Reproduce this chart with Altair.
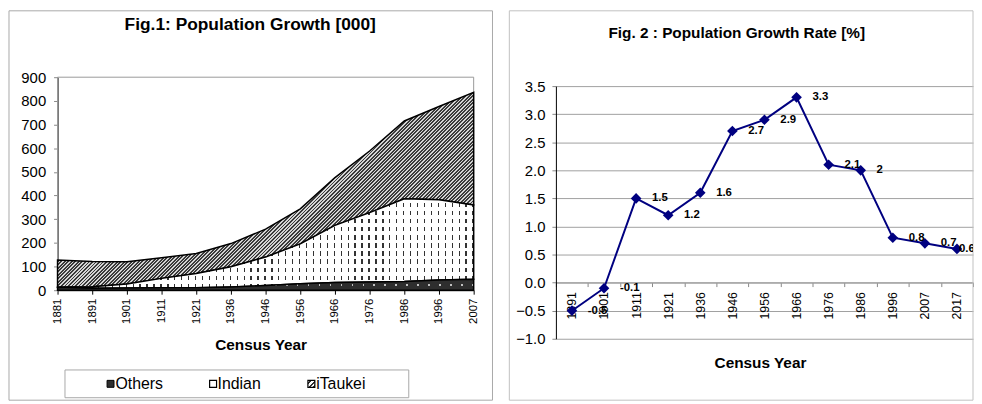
import altair as alt
import pandas as pd
import math

FONT = "Liberation Sans"

# ---------------- data ----------------
years1 = ["1881", "1891", "1901", "1911", "1921", "1936", "1946",
          "1956", "1966", "1976", "1986", "1996", "2007"]
others = [12, 8, 9, 10, 10, 14, 20, 27, 33, 35, 37, 43, 46]
indian = [1, 7, 17, 40, 61, 85, 120, 169, 241, 293, 349, 339, 314]
itaukei = [115, 106, 94, 87, 84, 98, 118, 148, 202, 260, 329, 394, 476]

years2 = ["1891", "1901", "1911", "1921", "1936", "1946", "1956",
          "1966", "1976", "1986", "1996", "2007", "2017"]
rates = [-0.5, -0.1, 1.5, 1.2, 1.6, 2.7, 2.9, 3.3, 2.1, 2.0, 0.8, 0.7, 0.6]
rate_labels = ["-0.5", "-0.1", "1.5", "1.2", "1.6", "2.7", "2.9",
               "3.3", "2.1", "2", "0.8", "0.7", "0.6"]

legend_names = ["Others", "Indian", "iTaukei"]

# ---------------- helpers ----------------
def stripe_stops(c1, c2, n, frac):
    stops = []
    for i in range(n):
        a = round(i / n, 6)
        b = round((i + frac) / n, 6)
        c = round((i + 1) / n, 6)
        stops += [alt.GradientStop(color=c1, offset=a),
                  alt.GradientStop(color=c1, offset=b),
                  alt.GradientStop(color=c2, offset=b),
                  alt.GradientStop(color=c2, offset=c)]
    return stops


# ---------------- Fig 1 ----------------
W1, H1, YMAX1 = 420, 215, 900
o_hi = others
i_hi = [a + b for a, b in zip(others, indian)]
t_hi = [a + b for a, b in zip(i_hi, itaukei)]
df1 = pd.DataFrame({"year": years1, "o_lo": [0] * len(years1), "o_hi": o_hi,
                    "i_lo": o_hi, "i_hi": i_hi, "t_lo": i_hi, "t_hi": t_hi})

x1 = alt.X("year:O", sort=years1, scale=alt.Scale(type="point", padding=0),
           axis=alt.Axis(title=None, labelAngle=-90, labelFont=FONT, labelFontSize=11.5,
                         labelColor="black", tickColor="black", domainColor="black",
                         tickSize=4, labelPadding=4))
axis_y1 = alt.Axis(title=None, values=list(range(0, 1000, 100)), grid=False,
                   labelFont=FONT, labelFontSize=15, labelColor="black",
                   tickColor="#888888", tickSize=4, labelPadding=8,
                   domainColor="black")
sc_y1 = alt.Scale(domain=[0, YMAX1], nice=False)

def y1(field):
    return alt.Y(field, scale=sc_y1, axis=axis_y1)

# iTaukei hatch: 45 degree stripes over its bounding box
Wt = W1
Ht = H1 * (max(t_hi) - min(i_hi)) / YMAX1
kx = Wt * (Wt + Ht) / (Wt ** 2 + Ht ** 2)
ky = Ht * (Wt + Ht) / (Wt ** 2 + Ht ** 2)
n_hatch = int(round((Wt + Ht) / math.sqrt(2) / 2.5))
hatch = alt.LinearGradient(gradient="linear", x1=0, y1=0, x2=kx, y2=ky,
                           stops=stripe_stops("#3a3a3a", "#d4d4d4", n_hatch, 0.55))

# Indian: vertical dashes = vertical stripes masked by horizontal white bands
Hi = H1 * (max(i_hi) - min(o_hi)) / YMAX1
vlines = alt.LinearGradient(gradient="linear", x1=0, y1=0, x2=1, y2=0,
                            stops=stripe_stops("#ffffff", "#333333", int(round(W1 / 7)), 1 - 1.3 / 7))
hmask = alt.LinearGradient(gradient="linear", x1=0, y1=0, x2=0, y2=1,
                           stops=stripe_stops("rgba(255,255,255,1)", "rgba(255,255,255,0)",
                                              max(1, int(round(Hi / 8))), 0.45))

# Others: dark with light dots
odots = alt.LinearGradient(gradient="linear", x1=0, y1=0, x2=1, y2=0,
                           stops=stripe_stops("#2e2e2e", "#c0c0c0", int(round(W1 / 11)), 0.85))
omask = alt.LinearGradient(gradient="linear", x1=0, y1=0, x2=0, y2=1,
                           stops=[alt.GradientStop(color="rgba(46,46,46,1)", offset=0),
                                  alt.GradientStop(color="rgba(46,46,46,1)", offset=0.42),
                                  alt.GradientStop(color="rgba(46,46,46,0)", offset=0.42),
                                  alt.GradientStop(color="rgba(46,46,46,0)", offset=0.6),
                                  alt.GradientStop(color="rgba(46,46,46,1)", offset=0.6),
                                  alt.GradientStop(color="rgba(46,46,46,1)", offset=1)])

one = pd.DataFrame({"a": [0]})

border1 = alt.Chart(one).mark_rect(fillOpacity=0, stroke="#a8a8a8", strokeWidth=1).encode(
    x=alt.value(-49), x2=alt.value(439), y=alt.value(-67), y2=alt.value(326))
plotbox1 = alt.Chart(one).mark_rect(fillOpacity=0, stroke="#999999", strokeWidth=1).encode(
    x=alt.value(0), x2=alt.value(W1), y=alt.value(0), y2=alt.value(H1))

base1 = alt.Chart(df1).encode(x=x1)
a_t = base1.mark_area(fill=hatch, stroke="black", strokeWidth=1.5, opacity=1).encode(
    y=y1("t_lo:Q"), y2="t_hi:Q")
a_i1 = base1.mark_area(fill=vlines, opacity=1).encode(y=y1("i_lo:Q"), y2="i_hi:Q")
a_i2 = base1.mark_area(fill=hmask, stroke="black", strokeWidth=1.5, opacity=1).encode(
    y=y1("i_lo:Q"), y2="i_hi:Q")
a_o1 = base1.mark_area(fill=odots, opacity=1).encode(y=y1("o_lo:Q"), y2="o_hi:Q")
a_o2 = base1.mark_area(fill=omask, stroke="black", strokeWidth=1.5, opacity=1).encode(
    y=y1("o_lo:Q"), y2="o_hi:Q")

title1 = alt.Chart(pd.DataFrame({"t": ["Fig.1: Population Growth [000]"]})).mark_text(
    font=FONT, fontSize=17.5, fontWeight="bold", color="black", align="center",
    baseline="middle").encode(text="t:N", x=alt.value(194.5), y=alt.value(-52.5))
xt1 = alt.Chart(pd.DataFrame({"t": ["Census Year"]})).mark_text(
    font=FONT, fontSize=15.5, fontWeight="bold", color="black", align="center",
    baseline="middle").encode(text="t:N", x=alt.value(205.5), y=alt.value(270.5))

# legend
legbox = alt.Chart(one).mark_rect(fill="white", stroke="#a8a8a8", strokeWidth=1).encode(
    x=alt.value(7.5), x2=alt.value(354.5), y=alt.value(295.5), y2=alt.value(323.5))
leg_sq_hatch = alt.LinearGradient(gradient="linear", x1=0, y1=0, x2=1, y2=1,
                                  stops=stripe_stops("#ffffff", "#333333", 3, 0.5))
sq_o = alt.Chart(one).mark_rect(fill="#2e2e2e", stroke="black", strokeWidth=1).encode(
    x=alt.value(50), x2=alt.value(57), y=alt.value(306), y2=alt.value(313))
sq_i = alt.Chart(one).mark_rect(fill="white", stroke="black", strokeWidth=1.2).encode(
    x=alt.value(153.5), x2=alt.value(160.5), y=alt.value(306), y2=alt.value(313))
sq_t = alt.Chart(one).mark_rect(fill=leg_sq_hatch, stroke="black", strokeWidth=1.2).encode(
    x=alt.value(252.7), x2=alt.value(259.7), y=alt.value(306), y2=alt.value(313))
leg_txt = [
    alt.Chart(pd.DataFrame({"t": [name]})).mark_text(
        font=FONT, fontSize=16, color="black", align="left", baseline="middle").encode(
        text="t:N", x=alt.value(xx), y=alt.value(310))
    for name, xx in zip(legend_names, [58.5, 161.5, 261])
]

left = alt.layer(border1, plotbox1, a_t, a_i1, a_i2, a_o1, a_o2, title1, xt1,
                 legbox, sq_o, sq_i, sq_t, *leg_txt).properties(width=W1, height=H1)

# ---------------- Fig 2 ----------------
W2 = 421
TOP2, BOT2 = 9, 264          # plot band inside the view (shares origin with Fig 1)
ymin2, ymax2 = -1.0, 3.5
zero_off = -(BOT2 - TOP2) * (0 - ymin2) / (ymax2 - ymin2)
df2 = pd.DataFrame({"year": years2, "rate": rates, "lab": rate_labels})
n2 = len(years2)

x2 = alt.X("year:O", sort=years2,
           scale=alt.Scale(type="band", paddingInner=0, paddingOuter=0),
           bandPosition=0.5,
           axis=alt.Axis(title=None, labelAngle=-90, labelFont=FONT, labelFontSize=12.5,
                         labelColor="black", tickColor="#888888", domainColor="#999999",
                         tickSize=4, labelPadding=5, tickBand="extent", offset=zero_off))
y2 = alt.Y("rate:Q", scale=alt.Scale(domain=[ymin2, ymax2], nice=False, range=[BOT2, TOP2]),
           axis=alt.Axis(title=None, values=[-1, -0.5, 0, 0.5, 1, 1.5, 2, 2.5, 3, 3.5],
                         format=".1f", grid=True, gridColor="#a0a0a0", gridWidth=1,
                         labelFont=FONT, labelFontSize=15, labelColor="black",
                         tickColor="#888888", tickSize=4, labelPadding=7,
                         domainColor="black"))

border2 = alt.Chart(one).mark_rect(fillOpacity=0, stroke="#c0c0c0", strokeWidth=1).encode(
    x=alt.value(-47), x2=alt.value(W2), y=alt.value(-67), y2=alt.value(326))
base2 = alt.Chart(df2).encode(x=x2, y=y2)
line2 = base2.mark_line(color="#000080", strokeWidth=2)
pts2 = base2.mark_point(shape="diamond", filled=True, size=115, color="#000080", opacity=1)
labs2 = alt.Chart(df2.iloc[: n2 - 1]).mark_text(
    font=FONT, fontSize=11.5, fontWeight="bold", color="black",
    align="left", baseline="middle", dx=16, clip=True).encode(x=x2, y=y2, text="lab:N")
labs2_last = alt.Chart(df2.iloc[n2 - 1:]).mark_text(
    font=FONT, fontSize=11.5, fontWeight="bold", color="black",
    align="left", baseline="middle", dx=2, clip=True).encode(x=x2, y=y2, text="lab:N")
title2 = alt.Chart(pd.DataFrame({"t": ["Fig. 2 : Population Growth Rate [%]"]})).mark_text(
    font=FONT, fontSize=15.5, fontWeight="bold", color="black", align="center",
    baseline="middle").encode(text="t:N", x=alt.value(182.5), y=alt.value(-44.5))
xt2 = alt.Chart(pd.DataFrame({"t": ["Census Year"]})).mark_text(
    font=FONT, fontSize=15.5, fontWeight="bold", color="black", align="center",
    baseline="middle").encode(text="t:N", x=alt.value(206.5), y=alt.value(288.5))

right = alt.layer(border2, line2, pts2, labs2, labs2_last, title2, xt2).properties(
    width=W2, height=BOT2)

chart = alt.hconcat(left, right, spacing=15).properties(
    padding=0, background="white"
).configure_view(stroke=None)

chart.save("out.html", embed_options={"renderer": "svg", "actions": False})
